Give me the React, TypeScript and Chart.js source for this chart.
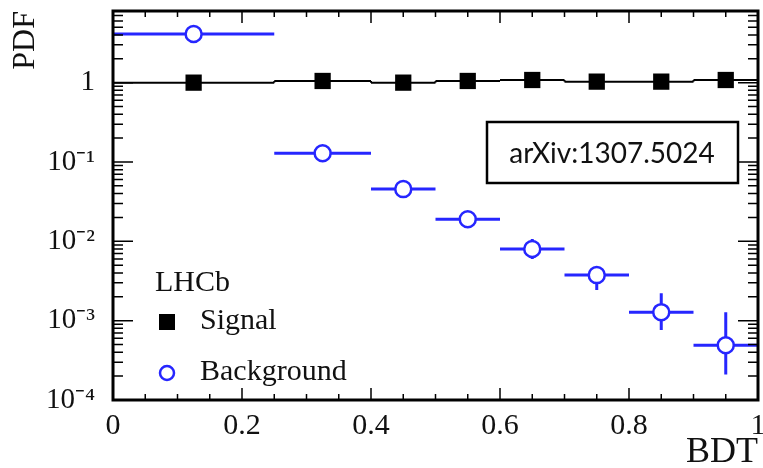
import { useEffect, useRef } from 'react';
import { Chart, registerables } from 'chart.js';

Chart.register(...registerables);

// ---- data ----
const binCenters = [0.125, 0.325, 0.45, 0.55, 0.65, 0.75, 0.85, 0.95];
const binLow = [0, 0.25, 0.4, 0.5, 0.6, 0.7, 0.8, 0.9];
const binHigh = [0.25, 0.4, 0.5, 0.6, 0.7, 0.8, 0.9, 1.0];
const signalValues = [1.0, 1.05, 1.0, 1.05, 1.08, 1.03, 1.03, 1.08];
const backgroundValues = [4.1, 0.129, 0.0455, 0.019, 0.008, 0.00375, 0.00128, 0.00049];
const backgroundErrLow = [4.1, 0.129, 0.0455, 0.0157, 0.006, 0.00243, 0.00076, 0.00021];
const backgroundErrHigh = [4.1, 0.129, 0.0455, 0.023, 0.0107, 0.00473, 0.00222, 0.00128];

const xTickValues = [0, 0.2, 0.4, 0.6, 0.8, 1];
const xTickLabels = ['0', '0.2', '0.4', '0.6', '0.8', '1'];
const yTickValues = [0.0001, 0.001, 0.01, 0.1, 1];
const yTickLabels = ['10\u207B\u2074', '10\u207B\u00B3', '10\u207B\u00B2', '10\u207B\u00B9', '1'];

const BLUE = '#2626ff';
const SERIF = "'Liberation Serif', 'Times New Roman', serif";

const errorBarPlugin = {
  id: 'errorBars',
  beforeDatasetsDraw(chart: any) {
    const { ctx, chartArea, scales } = chart;
    const x = scales.x;
    const y = scales.y;
    ctx.save();
    ctx.beginPath();
    ctx.rect(chartArea.left, chartArea.top, chartArea.width, chartArea.height);
    ctx.clip();
    // signal horizontal bars
    ctx.strokeStyle = '#000';
    ctx.lineWidth = 2;
    for (let i = 0; i < binCenters.length; i++) {
      const py = y.getPixelForValue(signalValues[i]);
      ctx.beginPath();
      ctx.moveTo(x.getPixelForValue(binLow[i]), py);
      ctx.lineTo(x.getPixelForValue(binHigh[i]), py);
      ctx.stroke();
      if (i > 0) {
        const prev = y.getPixelForValue(signalValues[i - 1]);
        const bx = x.getPixelForValue(binLow[i]);
        ctx.beginPath();
        ctx.moveTo(bx, prev);
        ctx.lineTo(bx, py);
        ctx.stroke();
      }
    }
    // background error bars
    ctx.strokeStyle = BLUE;
    ctx.lineWidth = 3;
    for (let i = 0; i < binCenters.length; i++) {
      const py = y.getPixelForValue(backgroundValues[i]);
      const px = x.getPixelForValue(binCenters[i]);
      ctx.beginPath();
      ctx.moveTo(x.getPixelForValue(binLow[i]), py);
      ctx.lineTo(x.getPixelForValue(binHigh[i]), py);
      ctx.moveTo(px, y.getPixelForValue(backgroundErrLow[i]));
      ctx.lineTo(px, y.getPixelForValue(backgroundErrHigh[i]));
      ctx.stroke();
    }
    ctx.restore();
  },
};

const framePlugin = {
  id: 'frame',
  afterDatasetsDraw(chart: any) {
    const { ctx, chartArea, scales } = chart;
    const x = scales.x;
    const y = scales.y;
    const { left, right, top, bottom } = chartArea;
    ctx.save();
    ctx.strokeStyle = '#000';
    ctx.lineWidth = 1.5;
    ctx.beginPath();
    // x ticks (bottom and top)
    for (let k = 0; k <= 20; k++) {
      const v = k * 0.05;
      const px = x.getPixelForValue(v);
      const len = k % 4 === 0 ? 12 : 6;
      ctx.moveTo(px, bottom);
      ctx.lineTo(px, bottom - len);
      ctx.moveTo(px, top);
      ctx.lineTo(px, top + len);
    }
    // y ticks (left and right)
    for (let e = -4; e <= 0; e++) {
      for (let m = 1; m <= 9; m++) {
        const v = m * Math.pow(10, e);
        if (v > y.max) continue;
        const py = y.getPixelForValue(v);
        const len = m === 1 ? 20 : 10;
        ctx.moveTo(left, py);
        ctx.lineTo(left + len, py);
        ctx.moveTo(right, py);
        ctx.lineTo(right - len, py);
      }
    }
    ctx.stroke();
    ctx.lineWidth = 3;
    ctx.strokeRect(left, top, right - left, bottom - top);
    ctx.restore();
  },
  afterDraw(chart: any) {
    const { ctx } = chart;
    const ds = chart.data.datasets;
    ctx.save();
    // in-plot legend
    ctx.fillStyle = '#111';
    ctx.font = `30px ${SERIF}`;
    ctx.textBaseline = 'middle';
    ctx.textAlign = 'left';
    ctx.fillText('LHCb', 155, 283);
    ctx.fillText(ds[0].label, 200, 321);
    ctx.fillText(ds[1].label, 200, 372);
    ctx.fillStyle = '#000';
    ctx.fillRect(159, 314, 16, 16);
    ctx.strokeStyle = BLUE;
    ctx.lineWidth = 2.5;
    ctx.beginPath();
    ctx.arc(167, 373, 7, 0, Math.PI * 2);
    ctx.stroke();
    // arXiv box
    ctx.fillStyle = '#fff';
    ctx.fillRect(487, 122, 251, 61);
    ctx.strokeStyle = '#000';
    ctx.lineWidth = 2.5;
    ctx.strokeRect(487, 122, 251, 61);
    ctx.fillStyle = '#111';
    ctx.font = `28px 'Lato', 'Open Sans', sans-serif`;
    ctx.textAlign = 'center';
    ctx.fillText('arXiv:1307.5024', 612, 154);
    ctx.restore();
  },
};

export default function App() {
  const ref = useRef<HTMLCanvasElement>(null);
  useEffect(() => {
    const chart = new Chart(ref.current as HTMLCanvasElement, {
      type: 'scatter',
      data: {
        datasets: [
          {
            label: 'Signal',
            data: binCenters.map((c, i) => ({ x: c, y: signalValues[i] })),
            pointStyle: 'rect',
            pointRadius: 11.5,
            backgroundColor: '#000',
            borderColor: '#000',
            borderWidth: 0,
          },
          {
            label: 'Background',
            data: binCenters.map((c, i) => ({ x: c, y: backgroundValues[i] })),
            pointStyle: 'circle',
            pointRadius: 8,
            backgroundColor: '#fff',
            borderColor: BLUE,
            borderWidth: 2.5,
          },
        ],
      },
      options: {
        responsive: false,
        animation: false,
        layout: { autoPadding: false, padding: { top: 11, right: 5, left: 0, bottom: 0 } },
        plugins: {
          legend: { display: false },
          tooltip: { enabled: false },
        },
        scales: {
          x: {
            type: 'linear',
            min: 0,
            max: 1,
            grid: { display: false },
            border: { display: false },
            afterBuildTicks: (s: any) => {
              s.ticks = xTickValues.map((v) => ({ value: v }));
            },
            afterFit: (s: any) => {
              s.height = 68;
              s.paddingLeft = 0;
              s.paddingRight = 0;
            },
            ticks: {
              autoSkip: false,
              maxRotation: 0,
              padding: 0,
              color: '#111',
              font: { family: SERIF, size: 30 },
              callback: (_v: any, i: number) => xTickLabels[i],
            },
            title: {
              display: true,
              text: 'BDT',
              align: 'end',
              color: '#111',
              font: { family: SERIF, size: 36, lineHeight: 0.8 },
              padding: { top: 0, bottom: 0.6 },
            },
          },
          y: {
            type: 'logarithmic',
            min: 0.0001,
            max: 8,
            grid: { display: false },
            border: { display: false },
            afterBuildTicks: (s: any) => {
              s.ticks = yTickValues.map((v) => ({ value: v }));
            },
            afterFit: (s: any) => {
              s.width = 113;
              s.paddingTop = 0;
              s.paddingBottom = 0;
            },
            ticks: {
              autoSkip: false,
              padding: 10,
              color: '#111',
              font: { family: SERIF, size: 29 },
              callback: (_v: any, i: number) => yTickLabels[i],
            },
            title: {
              display: true,
              text: 'PDF',
              align: 'end',
              color: '#111',
              font: { family: SERIF, size: 32, lineHeight: 1 },
              padding: { top: 10, bottom: 0 },
            },
          },
        },
      },
      plugins: [errorBarPlugin, framePlugin],
    } as any);
    return () => chart.destroy();
  }, []);
  return (
    <div style={{ position: 'absolute', left: 0, top: 0, width: 763, height: 468, background: '#fff' }}>
      <canvas ref={ref} width={763} height={468} style={{ display: 'block' }} />
    </div>
  );
}
